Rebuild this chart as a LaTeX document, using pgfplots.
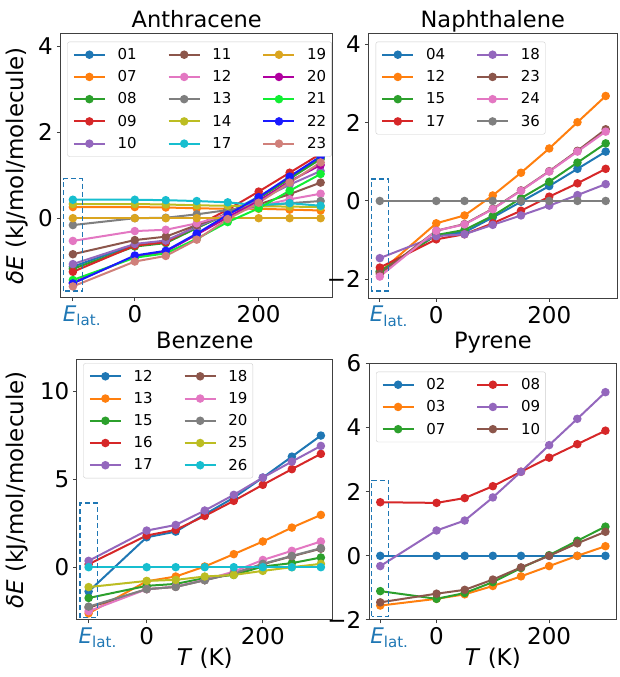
\documentclass[border=0pt]{standalone}
\usepackage{fontspec}
\setmainfont{DejaVu Sans}
\usepackage{pgfplots}
\pgfplotsset{compat=1.18}
\usepackage{pgfplotstable}

% matplotlib colours
\definecolor{tabblue}{HTML}{1F77B4}
\definecolor{taborange}{HTML}{FF7F0E}
\definecolor{tabgreen}{HTML}{2CA02C}
\definecolor{tabred}{HTML}{D62728}
\definecolor{tabpurple}{HTML}{9467BD}
\definecolor{tabbrown}{HTML}{8C564B}
\definecolor{tabpink}{HTML}{E377C2}
\definecolor{tabgray}{HTML}{7F7F7F}
\definecolor{tabolive}{HTML}{BCBD22}
\definecolor{tabcyan}{HTML}{17BECF}
\definecolor{cgold}{HTML}{DAA520}
\definecolor{cmag}{HTML}{B0009F}
\definecolor{clime}{HTML}{11EE33}
\definecolor{cblue}{HTML}{1A1AFF}
\definecolor{crose}{HTML}{D0807A}

\pgfplotstableread{
T s01 s07 s08 s09 s10 s11 s12 s13 s14 s17 s19 s20 s21 s22 s23
-100 -1.13 0.26 -1.18 -1.25 -1.07 -0.84 -0.53 -0.16 0.33 0.43 0.00 -1.50 -1.44 -1.52 -1.59
0 -0.62 0.26 -0.66 -0.64 -0.60 -0.51 -0.30 0.00 0.33 0.43 0.00 -0.89 -0.92 -0.87 -1.01
50 -0.55 0.25 -0.58 -0.56 -0.52 -0.43 -0.27 0.01 0.32 0.42 0.00 -0.78 -0.82 -0.76 -0.88
100 -0.22 0.23 -0.23 -0.18 -0.20 -0.16 -0.12 0.09 0.30 0.40 0.00 -0.38 -0.48 -0.36 -0.50
150 0.12 0.22 0.10 0.20 0.10 0.10 0.08 0.19 0.29 0.37 0.00 0.02 -0.09 0.08 -0.02
200 0.50 0.22 0.46 0.62 0.42 0.32 0.28 0.28 0.28 0.30 0.00 0.40 0.23 0.49 0.36
250 0.93 0.20 0.92 1.06 0.78 0.56 0.44 0.35 0.27 0.35 0.00 0.86 0.64 0.97 0.83
300 1.42 0.18 1.38 1.50 1.10 0.83 0.57 0.40 0.26 0.29 0.00 1.24 1.03 1.44 1.30
}\anth

\pgfplotstableread{
T s04 s12 s15 s17 s18 s23 s24 s36
-100 -1.80 -1.82 -1.80 -1.70 -1.46 -1.86 -1.93 0
0 -0.87 -0.57 -0.87 -0.98 -0.90 -0.76 -0.76 0
50 -0.80 -0.37 -0.74 -0.85 -0.85 -0.59 -0.60 0
100 -0.42 0.14 -0.38 -0.57 -0.61 -0.20 -0.21 0
150 -0.02 0.72 0.07 -0.25 -0.37 0.27 0.26 0
200 0.38 1.34 0.49 0.11 -0.12 0.76 0.75 0
250 0.82 2.01 0.98 0.45 0.15 1.28 1.26 0
300 1.26 2.68 1.47 0.82 0.43 1.83 1.77 0
}\naph

\pgfplotstableread{
T s12 s13 s15 s16 s17 s18 s19 s20 s25 s26
-100 -1.38 -2.62 -1.75 0.17 0.36 -2.30 -2.50 -2.24 -1.13 0
0 1.70 -0.80 -1.06 1.80 2.08 -1.25 -1.25 -1.25 -0.78 0
50 2.02 -0.53 -0.95 2.12 2.40 -1.12 -1.10 -1.12 -0.72 0
100 3.00 0.04 -0.62 2.91 3.22 -0.74 -0.72 -0.74 -0.53 0
150 3.95 0.74 -0.44 3.77 4.11 -0.35 -0.25 -0.35 -0.44 0
200 5.09 1.46 0.04 4.68 5.09 0.17 0.41 0.19 -0.21 0
250 6.28 2.25 0.23 5.57 6.00 0.62 0.93 0.64 0.00 0
300 7.48 2.97 0.55 6.44 6.89 1.05 1.46 1.08 0.19 0
}\benz

\pgfplotstableread{
T s02 s03 s07 s08 s09 s10
-100 0 -1.55 -1.10 1.67 -0.32 -1.45
0 0 -1.34 -1.34 1.65 0.79 -1.18
50 0 -1.20 -1.16 1.80 1.10 -1.06
100 0 -0.94 -0.82 2.17 1.82 -0.74
150 0 -0.64 -0.38 2.62 2.62 -0.36
200 0 -0.32 0.02 3.06 3.45 0.00
250 0 0.00 0.47 3.48 4.27 0.39
300 0 0.30 0.91 3.90 5.10 0.75
}\pyr

\tikzset{elat/.style={draw=tabblue, line width=1.3pt, dash pattern=on 5pt off 3pt}}

\pgfplotsset{
  panel/.style={
    scale only axis,
    anchor=south west,
    xmin=-120, xmax=320,
    xtick={-100,0,200},
    xticklabels={\makebox[0pt][l]{\hspace*{-10pt}\fontsize{21.5}{24}\selectfont\textcolor{tabblue}{\textit{E}\textsubscript{lat.}}},0,200},
    tick pos=left, tick align=outside, major tick length=3.5pt,
    axis line style={draw=black!75, line width=1pt},
    every tick/.style={draw=black!75, line width=1pt},
    tick label style={font=\fontsize{23}{26}\selectfont},
    yticklabel style={inner sep=4pt},
    xticklabel style={inner sep=4pt},
    label style={font=\fontsize{23}{26}\selectfont},
    title style={font=\fontsize{22.5}{26}\selectfont, at={(0.5,1)}, anchor=base},
    every axis plot/.append style={line width=2pt, mark=*, mark size=3.2pt},
    every mark/.append style={line width=0.4pt},
    legend cell align=left,
    legend style={font=\fontsize{15}{15}\selectfont, draw=black!20, rounded corners=2pt,
      fill=white, at={(0,1)}, anchor=north west,
      inner xsep=5.4pt, inner ysep=6.5pt, row sep=9.6pt, nodes={inner sep=0pt},
      /tikz/every odd column/.append style={column sep=11.7pt},
      /tikz/every even column/.append style={column sep=31pt}},
    legend image code/.code={\draw[mark repeat=2, mark phase=2, #1]
      plot coordinates {(0pt,0pt) (15.5pt,0pt) (31pt,0pt)};},
  },
}

\begin{document}
\begin{tikzpicture}

% Anthracene
\begin{axis}[panel, at={(60.5pt,379pt)}, width=272.5pt, height=264.7pt,
  ymin=-1.86, ymax=4.31, ytick={0,2,4}, yticklabels={0,2,4},
  title=Anthracene,
  ylabel={\textit{δE} (kJ/mol/molecule)},
  ylabel style={at={(axis description cs:-0.16,0.5)}, anchor=center},
  legend columns=5, transpose legend,
  legend style={xshift=6.8pt, yshift=-8.4pt}]
\addplot[tabblue] table[x=T,y=s01] {\anth};
\addplot[taborange] table[x=T,y=s07] {\anth};
\addplot[tabgreen] table[x=T,y=s08] {\anth};
\addplot[tabred] table[x=T,y=s09] {\anth};
\addplot[tabpurple] table[x=T,y=s10] {\anth};
\addplot[tabbrown] table[x=T,y=s11] {\anth};
\addplot[tabpink] table[x=T,y=s12] {\anth};
\addplot[tabgray] table[x=T,y=s13] {\anth};
\addplot[tabolive] table[x=T,y=s14] {\anth};
\addplot[tabcyan] table[x=T,y=s17] {\anth};
\addplot[cgold] table[x=T,y=s19] {\anth};
\addplot[cmag] table[x=T,y=s20] {\anth};
\addplot[clime] table[x=T,y=s21] {\anth};
\addplot[cblue] table[x=T,y=s22] {\anth};
\addplot[crose] table[x=T,y=s23] {\anth};
\legend{01,07,08,09,10,11,12,13,14,17,19,20,21,22,23}
\draw[elat] (axis cs:-115,-1.70) rectangle (axis cs:-85,0.92);
\end{axis}

% Naphthalene
\begin{axis}[panel, at={(368.5pt,378.5pt)}, width=248.5pt, height=265.2pt,
  ymin=-2.49, ymax=4.28, ytick={-2,0,2,4}, yticklabels={−2,0,2,4},
  title=Naphthalene,
  legend columns=4, transpose legend,
  legend style={xshift=7.2pt, yshift=-8.4pt}]
\addplot[tabblue] table[x=T,y=s04] {\naph};
\addplot[taborange] table[x=T,y=s12] {\naph};
\addplot[tabgreen] table[x=T,y=s15] {\naph};
\addplot[tabred] table[x=T,y=s17] {\naph};
\addplot[tabpurple] table[x=T,y=s18] {\naph};
\addplot[tabbrown] table[x=T,y=s23] {\naph};
\addplot[tabpink] table[x=T,y=s24] {\naph};
\addplot[tabgray] table[x=T,y=s36] {\naph};
\legend{04,12,15,17,18,23,24,36}
\draw[elat] (axis cs:-115,-2.30) rectangle (axis cs:-85,0.56);
\end{axis}

% Benzene
\begin{axis}[panel, at={(77pt,57pt)}, width=255.5pt, height=260.5pt,
  ymin=-3, ymax=11.8, ytick={0,5,10}, yticklabels={0,5,10},
  title=Benzene, title style={yshift=5pt},
  ylabel={\textit{δE} (kJ/mol/molecule)},
  ylabel style={at={(axis description cs:-0.235,0.5)}, anchor=center},
  xlabel={\textit{T} (K)},
  xlabel style={at={(axis description cs:0.5,-0.146)}, anchor=center},
  legend columns=5, transpose legend,
  legend style={xshift=6.3pt, yshift=-3.8pt}]
\addplot[tabblue] table[x=T,y=s12] {\benz};
\addplot[taborange] table[x=T,y=s13] {\benz};
\addplot[tabgreen] table[x=T,y=s15] {\benz};
\addplot[tabred] table[x=T,y=s16] {\benz};
\addplot[tabpurple] table[x=T,y=s17] {\benz};
\addplot[tabbrown] table[x=T,y=s18] {\benz};
\addplot[tabpink] table[x=T,y=s19] {\benz};
\addplot[tabgray] table[x=T,y=s20] {\benz};
\addplot[tabolive] table[x=T,y=s25] {\benz};
\addplot[tabcyan] table[x=T,y=s26] {\benz};
\legend{12,13,15,16,17,18,19,20,25,26}
\draw[elat] (axis cs:-115,-2.86) rectangle (axis cs:-85,3.64);
\end{axis}

% Pyrene
\begin{axis}[panel, at={(369pt,57pt)}, width=247.7pt, height=256.7pt,
  ymin=-2, ymax=6, ytick={-2,0,2,4,6}, yticklabels={−2,0,2,4,6},
  title=Pyrene, title style={yshift=9pt},
  xlabel={\textit{T} (K)},
  xlabel style={at={(axis description cs:0.5,-0.148)}, anchor=center},
  legend columns=3, transpose legend,
  legend style={xshift=7pt, yshift=-8.4pt}]
\addplot[tabblue] table[x=T,y=s02] {\pyr};
\addplot[taborange] table[x=T,y=s03] {\pyr};
\addplot[tabgreen] table[x=T,y=s07] {\pyr};
\addplot[tabred] table[x=T,y=s08] {\pyr};
\addplot[tabpurple] table[x=T,y=s09] {\pyr};
\addplot[tabbrown] table[x=T,y=s10] {\pyr};
\legend{02,03,07,08,09,10}
\draw[elat] (axis cs:-115,-1.89) rectangle (axis cs:-85,2.35);
\end{axis}

\pgfresetboundingbox
\path[use as bounding box] (0,0) rectangle (619pt,677pt);
\end{tikzpicture}
\end{document}
